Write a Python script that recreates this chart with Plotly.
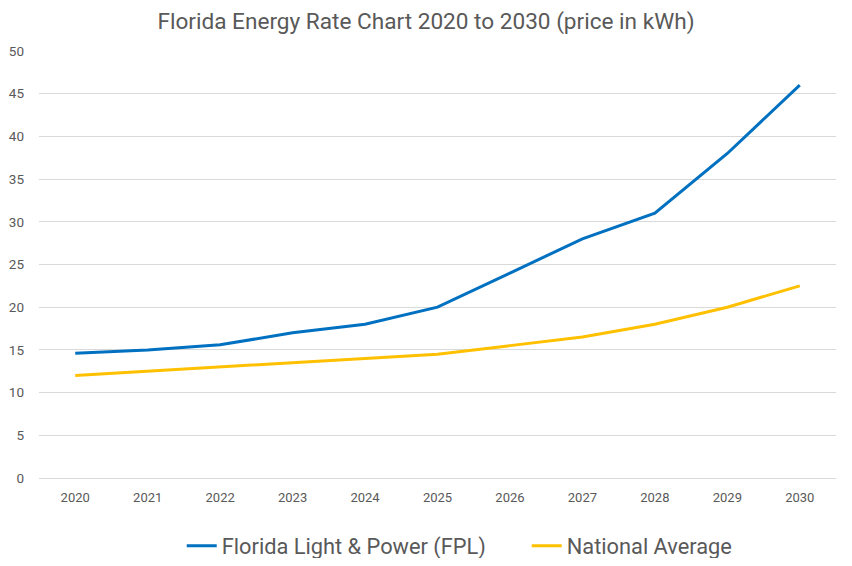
import plotly.graph_objects as go

years = ["2020", "2021", "2022", "2023", "2024", "2025", "2026", "2027", "2028", "2029", "2030"]
fpl = [14.6, 15.0, 15.6, 17.0, 18.0, 20.0, 24.0, 28.0, 31.0, 38.0, 46.0]
national = [12.0, 12.5, 13.0, 13.5, 14.0, 14.5, 15.5, 16.5, 18.0, 20.0, 22.5]

FONT = "Roboto, sans-serif"
GREY = "#595959"

fig = go.Figure()
fig.add_trace(go.Scatter(x=years, y=fpl, mode="lines", name="Florida Light & Power (FPL)",
                         line=dict(color="#0070C0", width=3)))
fig.add_trace(go.Scatter(x=years, y=national, mode="lines", name="National Average",
                         line=dict(color="#FFC000", width=3)))

# page body has an 8px margin, so the figure is 16px smaller than the window
fig.update_layout(
    width=836, height=550,
    margin=dict(l=30.5, r=8, t=43, b=80, autoexpand=False),
    paper_bgcolor="white", plot_bgcolor="white",
    font=dict(family=FONT, color=GREY, size=13),
    title=dict(text="Florida Energy Rate Chart 2020 to 2030 (price in kWh)",
               x=0.5, xanchor="center", xref="container", yref="container", y=0.977, yanchor="middle",
               font=dict(size=22.6, color=GREY, family=FONT)),
    xaxis=dict(type="category", range=[-0.5, 10.5], showgrid=False, showline=False,
               ticks="", ticklabelstandoff=10, tickfont=dict(size=13, color=GREY), zeroline=False),
    yaxis=dict(range=[0, 50], dtick=5, showgrid=True, gridcolor="#D9D9D9", gridwidth=1,
               zeroline=True, zerolinecolor="#D9D9D9", zerolinewidth=1,
               showline=False, ticks="", ticklabelstandoff=14, tickfont=dict(size=13.5, color=GREY)),
    legend=dict(orientation="h", xref="container", x=0.2078, xanchor="left",
                yref="container", y=0.0218, yanchor="middle",
                font=dict(size=21.8, color=GREY, family=FONT), itemwidth=30,
                entrywidth=300, traceorder="normal"),
    showlegend=True,
)

fig.write_html("out.html")
